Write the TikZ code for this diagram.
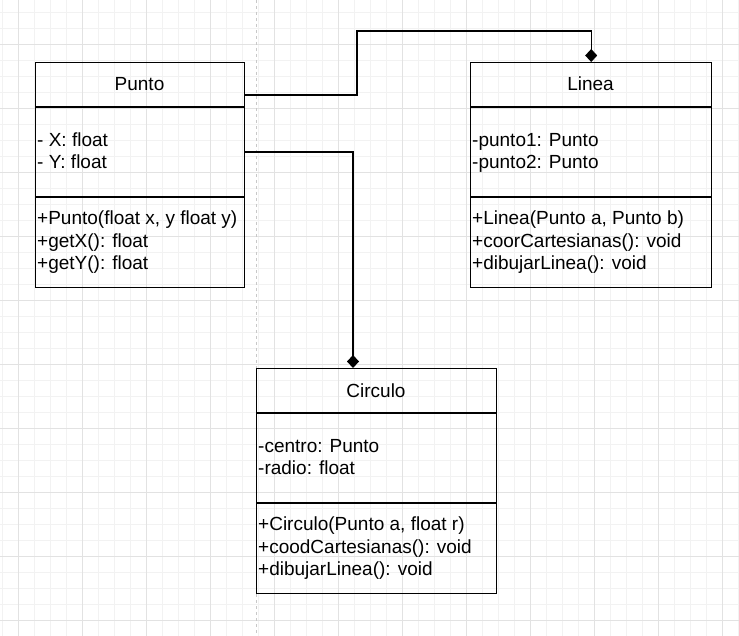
\documentclass[tikz,border=0pt]{standalone}
\usepackage{fontspec}
\setmainfont{Liberation Sans}
\usetikzlibrary{arrows.meta}
\definecolor{gridminor}{RGB}{242,242,242}
\definecolor{gridmajor}{RGB}{226,226,226}
\definecolor{pagebreak}{RGB}{200,200,200}
\begin{document}
\begin{tikzpicture}[x=1pt,y=-1pt,
  umlbox/.style={draw=black, line width=1.4pt, anchor=north west, inner sep=0pt, minimum height=225pt},
  divider/.style={draw=black, line width=1.4pt},
  titletxt/.style={anchor=base, inner sep=0pt, font=\fontsize{19}{22.5}\selectfont},
  membertxt/.style={anchor=base west, inner sep=0pt, align=left, font=\fontsize{19}{22.5}\selectfont},
  comp/.style={draw=black, line width=1.4pt, -{Diamond[length=13pt,width=12pt,fill=black]}},
  ]
\useasboundingbox (0,0) rectangle (739,636);
\fill[white] (0,0) rectangle (739,636);
\begin{scope}
\clip (0,0) rectangle (739,636);
\foreach \i in {2,18,...,738} {\draw[gridminor, line width=0.9pt] (\i,0) -- (\i,636);}
\foreach \i in {12,28,...,636} {\draw[gridminor, line width=0.9pt] (0,\i) -- (739,\i);}
\foreach \i in {18,82,...,738} {\draw[gridmajor, line width=0.9pt] (\i,0) -- (\i,636);}
\foreach \i in {44,108,...,636} {\draw[gridmajor, line width=0.9pt] (0,\i) -- (739,\i);}
\draw[pagebreak, line width=1pt, dash pattern=on 3pt off 3pt] (256,0) -- (256,636);
\end{scope}

% Punto
\node[umlbox, minimum width=209pt] (punto) at (35,62) {};
\draw[divider] (punto.north west) ++(0,45) -- ++(209,0);
\draw[divider] (punto.north west) ++(0,135) -- ++(209,0);
\node[titletxt] (puntoT) at (139.5,91) {Punto};
\node[membertxt] (puntoA) at (37,169) {- X: float\\- Y: float};
\node[membertxt] (puntoM) at (37,270) {+Punto(float x, y float y)\\+getX(): float\\+getY(): float};

% Linea
\node[umlbox, minimum width=241pt] (linea) at (470,62) {};
\draw[divider] (linea.north west) ++(0,45) -- ++(241,0);
\draw[divider] (linea.north west) ++(0,135) -- ++(241,0);
\node[titletxt] (lineaT) at (590.5,91) {Linea};
\node[membertxt] (lineaA) at (472,169) {-punto1: Punto\\-punto2: Punto};
\node[membertxt] (lineaM) at (472,270) {+Linea(Punto a, Punto b)\\+coorCartesianas(): void\\+dibujarLinea(): void};

% Circulo
\node[umlbox, minimum width=240pt] (circulo) at (256,368) {};
\draw[divider] (circulo.north west) ++(0,45) -- ++(240,0);
\draw[divider] (circulo.north west) ++(0,135) -- ++(240,0);
\node[titletxt] (circuloT) at (376,397) {Circulo};
\node[membertxt] (circuloA) at (258,474.5) {-centro: Punto\\-radio: float};
\node[membertxt] (circuloM) at (258,575.5) {+Circulo(Punto a, float r)\\+coodCartesianas(): void\\+dibujarLinea(): void};

% connectors
\coordinate (pA) at (244,95);
\coordinate (pB) at (244,152);
\coordinate (cIn) at (353,368);
\draw[comp] (pA) -- (357,95) -- (357,31) -| (linea.north);
\draw[comp] (pB) -| (cIn);
\end{tikzpicture}
\end{document}
